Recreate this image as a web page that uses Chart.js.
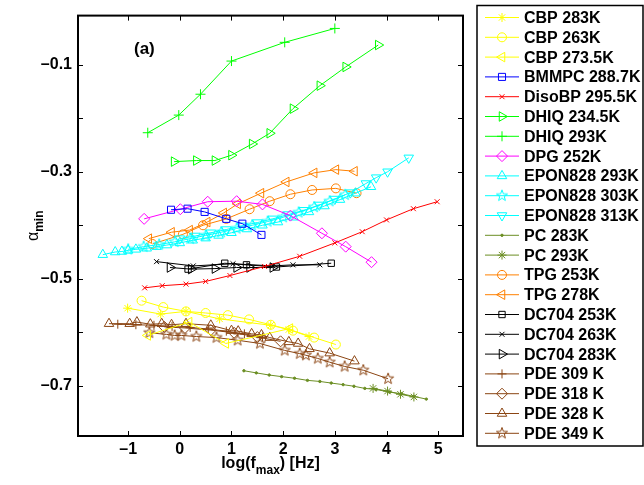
<!DOCTYPE html>
<html>
<head>
<meta charset="utf-8">
<script src="https://cdn.jsdelivr.net/npm/chart.js@4.4.0/dist/chart.umd.min.js"></script>
<style>
  html, body { margin: 0; padding: 0; background: #fff; }
  canvas { display: block; }
</style>
</head>
<body>
<canvas id="chart" width="644" height="485"></canvas>
<script>
// axis ticks
const xTicks = [-1, 0, 1, 2, 3, 4, 5];
const yTicks = [-0.7, -0.6, -0.5, -0.4, -0.3, -0.2, -0.1];
const yTickLabels = ['\u20130.7', '', '\u20130.5', '', '\u20130.3', '', '\u20130.1'];

// series values: log(fmax) and alpha_min
const cbp283X = [-1.01, -0.37, 0.12, 0.77, 1.76, 2.11, 2.50];
const cbp283Y = [-0.555, -0.566, -0.561, -0.575, -0.587, -0.595, -0.608];
const cbp263X = [-0.74, -0.32, 0.12, 0.50, 0.93, 1.34, 1.76, 2.19, 2.60, 3.02];
const cbp263Y = [-0.541, -0.553, -0.561, -0.564, -0.568, -0.576, -0.586, -0.597, -0.610, -0.623];
const cbp273X = [-0.62, 0.18, 0.89, 2.13];
const cbp273Y = [-0.606, -0.581, -0.621, -0.593];
const bmmpcX = [-0.17, 0.15, 0.48, 0.90, 1.21, 1.58];
const bmmpcY = [-0.371, -0.369, -0.375, -0.388, -0.397, -0.418];
const disoX = [-0.68, -0.34, 0.12, 0.50, 0.97, 1.64, 2.32, 3.00, 3.53, 4.00, 4.52, 4.98];
const disoY = [-0.517, -0.513, -0.510, -0.505, -0.494, -0.477, -0.458, -0.433, -0.412, -0.390, -0.369, -0.356];
const dhiq234X = [-0.11, 0.32, 0.68, 1.00, 1.40, 1.74, 2.19, 2.71, 3.21, 3.84];
const dhiq234Y = [-0.281, -0.279, -0.279, -0.269, -0.248, -0.228, -0.182, -0.139, -0.104, -0.063];
const dhiq293X = [-0.62, -0.02, 0.40, 1.00, 2.03, 3.00];
const dhiq293Y = [-0.227, -0.194, -0.155, -0.093, -0.058, -0.032];
const dpgX = [-0.69, 0.01, 0.54, 1.10, 1.60, 2.14, 2.75, 3.21, 3.71];
const dpgY = [-0.388, -0.370, -0.356, -0.355, -0.361, -0.382, -0.415, -0.440, -0.469];
const epon293X = [-1.49, -1.25, -1.12, -1.0, -0.85, -0.64, -0.45, -0.25, 0.0, 0.25, 0.5, 0.75, 1.0, 1.3, 1.6, 1.9, 2.2, 2.5, 2.8, 3.1, 3.4, 3.7];
const epon293Y = [-0.455, -0.450, -0.449, -0.447, -0.445, -0.443, -0.440, -0.437, -0.433, -0.428, -0.424, -0.419, -0.414, -0.407, -0.400, -0.394, -0.385, -0.375, -0.364, -0.352, -0.340, -0.328];
const epon303X = [-1.0, -0.7, -0.4, -0.1, 0.2, 0.5, 0.8, 1.1, 1.4, 1.7, 2.0, 2.3, 2.6, 2.9, 3.2];
const epon303Y = [-0.445, -0.440, -0.436, -0.431, -0.425, -0.419, -0.413, -0.406, -0.400, -0.393, -0.385, -0.376, -0.366, -0.355, -0.343];
const epon313X = [0.0, 0.3, 0.6, 0.9, 1.2, 1.5, 1.8, 2.1, 2.4, 2.7, 3.0, 3.3, 3.6, 3.8, 4.02, 4.43];
const epon313Y = [-0.425, -0.420, -0.414, -0.408, -0.401, -0.395, -0.388, -0.380, -0.372, -0.362, -0.351, -0.339, -0.322, -0.311, -0.300, -0.274];
const pc283X = [1.24, 1.48, 1.73, 1.97, 2.22, 2.47, 2.71, 2.93, 3.16, 3.37, 3.58, 3.80, 4.06, 4.29, 4.53, 4.77];
const pc283Y = [-0.672, -0.676, -0.680, -0.683, -0.686, -0.690, -0.692, -0.695, -0.698, -0.701, -0.705, -0.707, -0.712, -0.715, -0.720, -0.725];
const pc293X = [3.74, 4.02, 4.27, 4.53];
const pc293Y = [-0.705, -0.710, -0.716, -0.721];
const tpg253X = [-0.53, 0.06, 0.45, 0.90, 1.35, 1.74, 2.14, 2.56, 3.02, 3.42];
const tpg253Y = [-0.435, -0.417, -0.400, -0.388, -0.370, -0.355, -0.342, -0.334, -0.331, -0.340];
const tpg278X = [-0.60, -0.16, 0.19, 0.53, 0.85, 1.12, 1.57, 2.06, 2.60, 3.02, 3.38];
const tpg278Y = [-0.425, -0.413, -0.409, -0.394, -0.377, -0.360, -0.340, -0.319, -0.302, -0.296, -0.299];
const dc253X = [0.16, 0.87, 1.29, 1.87, 2.93];
const dc253Y = [-0.482, -0.471, -0.474, -0.478, -0.471];
const dc263X = [-0.45, 0.26, 1.03, 1.80, 2.19, 2.71];
const dc263Y = [-0.468, -0.476, -0.472, -0.476, -0.474, -0.474];
const dc283X = [-0.19, 0.22, 0.68, 1.10, 1.35, 1.80];
const dc283Y = [-0.479, -0.482, -0.481, -0.479, -0.479, -0.479];
const pde309X = [-1.2, -0.85, -0.5, -0.15, 0.2, 0.55, 0.9, 1.25, 1.6];
const pde309Y = [-0.585, -0.586, -0.587, -0.589, -0.591, -0.594, -0.598, -0.603, -0.609];
const pde318X = [-0.3, 0.1, 0.6, 1.05, 1.5, 1.95];
const pde318Y = [-0.590, -0.592, -0.596, -0.601, -0.609, -0.617];
const pde328X = [-1.37, -0.97, -0.83, -0.57, -0.35, -0.16, 0.12, 0.60, 1.00, 1.13, 1.39, 1.58, 1.74, 2.11, 2.29, 2.51, 2.90, 3.38];
const pde328Y = [-0.584, -0.584, -0.581, -0.585, -0.584, -0.586, -0.584, -0.587, -0.597, -0.598, -0.603, -0.605, -0.610, -0.618, -0.621, -0.631, -0.639, -0.654];
const pde349X = [-0.59, -0.26, -0.10, 0.03, 0.32, 0.71, 1.12, 1.55, 2.03, 2.32, 2.44, 2.67, 2.90, 3.19, 3.55, 4.03];
const pde349Y = [-0.601, -0.604, -0.606, -0.606, -0.608, -0.610, -0.615, -0.621, -0.634, -0.640, -0.643, -0.649, -0.656, -0.664, -0.671, -0.687];

const YELLOW = '#ffff00', BLUE = '#0000ff', RED = '#ff0000', GREEN = '#00ff00',
      MAGENTA = '#ff00ff', CYAN = '#00ffff', OLIVE = '#6b8e23', ORANGE = '#ff8000',
      BLACK = '#000000', BROWN = '#8b4513';

// five pointed star marker (not built into Chart.js)
function starMarker(color) {
  const c = document.createElement('canvas');
  c.width = c.height = 14;
  const g = c.getContext('2d');
  g.strokeStyle = color;
  g.lineWidth = 1;
  g.beginPath();
  for (let i = 0; i < 10; i++) {
    const r = i % 2 ? 2.4 : 5.8;
    const a = -Math.PI / 2 + i * Math.PI / 5;
    g.lineTo(7 + r * Math.cos(a), 7 + r * Math.sin(a));
  }
  g.closePath();
  g.stroke();
  return c;
}

function series(label, xs, ys, color, style, radius, rotation = 0, filled = false) {
  return {
    label,
    data: xs.map((x, i) => ({ x, y: ys[i] })),
    showLine: true,
    borderColor: color,
    borderWidth: 1,
    pointStyle: style,
    pointRadius: radius,
    pointRotation: rotation,
    pointBorderColor: color,
    pointBackgroundColor: filled ? color : 'rgba(0,0,0,0)',
    pointBorderWidth: 1,
  };
}

const datasets = [
  series('CBP 283K', cbp283X, cbp283Y, YELLOW, 'star', 4.5),
  series('CBP 263K', cbp263X, cbp263Y, YELLOW, 'circle', 4.5),
  series('CBP 273.5K', cbp273X, cbp273Y, YELLOW, 'triangle', 5.5, -90),
  series('BMMPC 288.7K', bmmpcX, bmmpcY, BLUE, 'rect', 5),
  series('DisoBP 295.5K', disoX, disoY, RED, 'crossRot', 3.5),
  series('DHIQ 234.5K', dhiq234X, dhiq234Y, GREEN, 'triangle', 5.5, 90),
  series('DHIQ 293K', dhiq293X, dhiq293Y, GREEN, 'cross', 5),
  series('DPG 252K', dpgX, dpgY, MAGENTA, 'rectRot', 5.5),
  series('EPON828 293K', epon293X, epon293Y, CYAN, 'triangle', 5.5),
  series('EPON828 303K', epon303X, epon303Y, CYAN, starMarker(CYAN), 5.5),
  series('EPON828 313K', epon313X, epon313Y, CYAN, 'triangle', 5.5, 180),
  series('PC 283K', pc283X, pc283Y, OLIVE, 'circle', 1.2, 0, true),
  series('PC 293K', pc293X, pc293Y, OLIVE, 'star', 4.5),
  series('TPG 253K', tpg253X, tpg253Y, ORANGE, 'circle', 4.5),
  series('TPG 278K', tpg278X, tpg278Y, ORANGE, 'triangle', 5.5, -90),
  series('DC704 253K', dc253X, dc253Y, BLACK, 'rect', 4.5),
  series('DC704 263K', dc263X, dc263Y, BLACK, 'crossRot', 3.5),
  series('DC704 283K', dc283X, dc283Y, BLACK, 'triangle', 5.5, 90),
  series('PDE 309 K', pde309X, pde309Y, BROWN, 'cross', 4.5),
  series('PDE 318 K', pde318X, pde318Y, BROWN, 'rectRot', 5.5),
  series('PDE 328 K', pde328X, pde328Y, BROWN, 'triangle', 5.5),
  series('PDE 349 K', pde349X, pde349Y, BROWN, starMarker(BROWN), 5.5),
];

const FONT = '"Liberation Sans", Arial, sans-serif';

// box, inward ticks, titles and the legend panel
const decorations = {
  id: 'decorations',
  afterDraw(chart) {
    const { ctx, chartArea: a, scales: { x, y } } = chart;
    ctx.save();
    ctx.strokeStyle = '#000';
    ctx.lineWidth = 1;
    ctx.beginPath();
    xTicks.forEach(v => {
      const px = Math.round(x.getPixelForValue(v)) + 0.5;
      ctx.moveTo(px, a.bottom); ctx.lineTo(px, a.bottom - 5);
      ctx.moveTo(px, a.top); ctx.lineTo(px, a.top + 5);
    });
    yTicks.forEach(v => {
      const py = Math.round(y.getPixelForValue(v)) + 0.5;
      ctx.moveTo(a.left, py); ctx.lineTo(a.left + 5, py);
      ctx.moveTo(a.right, py); ctx.lineTo(a.right - 5, py);
    });
    ctx.stroke();
    ctx.lineWidth = 2;
    ctx.strokeRect(a.left, a.top, a.right - a.left, a.bottom - a.top);

    ctx.fillStyle = '#000';
    ctx.textBaseline = 'alphabetic';
    ctx.font = 'bold 17px ' + FONT;
    ctx.fillText('(a)', 134, 54);

    // x title: log(f_max) [Hz]
    const big = 'bold 16px ' + FONT, small = 'bold 12px ' + FONT;
    const parts = [['log(f', big, 0], ['max', small, 6], [') [Hz]', big, 0]];
    let w = 0;
    parts.forEach(([t, f]) => { ctx.font = f; w += ctx.measureText(t).width; });
    let cx = (a.left + a.right) / 2 - w / 2;
    parts.forEach(([t, f, dy]) => {
      ctx.font = f;
      ctx.fillText(t, cx, 468 + dy);
      cx += ctx.measureText(t).width;
    });

    // y title: alpha_min
    ctx.save();
    ctx.translate(38, (a.top + a.bottom) / 2);
    ctx.rotate(-Math.PI / 2);
    ctx.font = '16px ' + FONT;
    const aw = ctx.measureText('\u03b1').width;
    ctx.font = small;
    const mw = ctx.measureText('min').width;
    let lx = -(aw + mw) / 2;
    ctx.font = '16px ' + FONT;
    ctx.fillText('\u03b1', lx, 0);
    ctx.font = small;
    ctx.fillText('min', lx + aw, 5);
    ctx.restore();

    // legend
    ctx.lineWidth = 1.5;
    ctx.strokeRect(477, 5.5, 166, 440.5);
    chart.data.datasets.forEach((ds, i) => {
      const ly = 17.5 + i * 19.8;
      ctx.strokeStyle = ds.borderColor;
      ctx.lineWidth = 1;
      ctx.beginPath();
      ctx.moveTo(485, ly); ctx.lineTo(519, ly);
      ctx.stroke();
      ctx.fillStyle = ds.pointBackgroundColor;
      Chart.helpers.drawPoint(ctx, {
        pointStyle: ds.pointStyle,
        rotation: ds.pointRotation,
        radius: ds.pointRadius,
        borderWidth: 1,
      }, 502, ly);
      ctx.fillStyle = '#000';
      ctx.font = 'bold 16px ' + FONT;
      ctx.textBaseline = 'middle';
      ctx.fillText(ds.label, 524, ly + 1);
    });
    ctx.restore();
  }
};

new Chart(document.getElementById('chart'), {
  type: 'scatter',
  data: { datasets },
  options: {
    responsive: false,
    animation: false,
    devicePixelRatio: 1,
    layout: { padding: { left: 0, top: 14, right: 181, bottom: 0 } },
    plugins: { legend: { display: false }, tooltip: { enabled: false } },
    scales: {
      x: {
        type: 'linear',
        min: -1.97,
        max: 5.48,
        afterBuildTicks: (s) => { s.ticks = xTicks.map(v => ({ value: v })); },
        afterFit: (s) => { s.height = 49; },
        grid: { display: false, drawTicks: false },
        border: { display: false },
        ticks: {
          color: '#000',
          padding: 4,
          font: { family: FONT, size: 16, weight: 'bold' },
          callback: (v) => (v < 0 ? '\u2013' + Math.abs(v) : String(v)),
        },
      },
      y: {
        type: 'linear',
        min: -0.794,
        max: -0.008,
        afterBuildTicks: (s) => { s.ticks = yTicks.map(v => ({ value: v })); },
        afterFit: (s) => { s.width = 78; },
        grid: { display: false, drawTicks: false },
        border: { display: false },
        ticks: {
          color: '#000',
          padding: 6,
          font: { family: FONT, size: 16, weight: 'bold' },
          callback: (v, i) => yTickLabels[i],
        },
      },
    },
  },
  plugins: [decorations],
});
</script>
</body>
</html>
